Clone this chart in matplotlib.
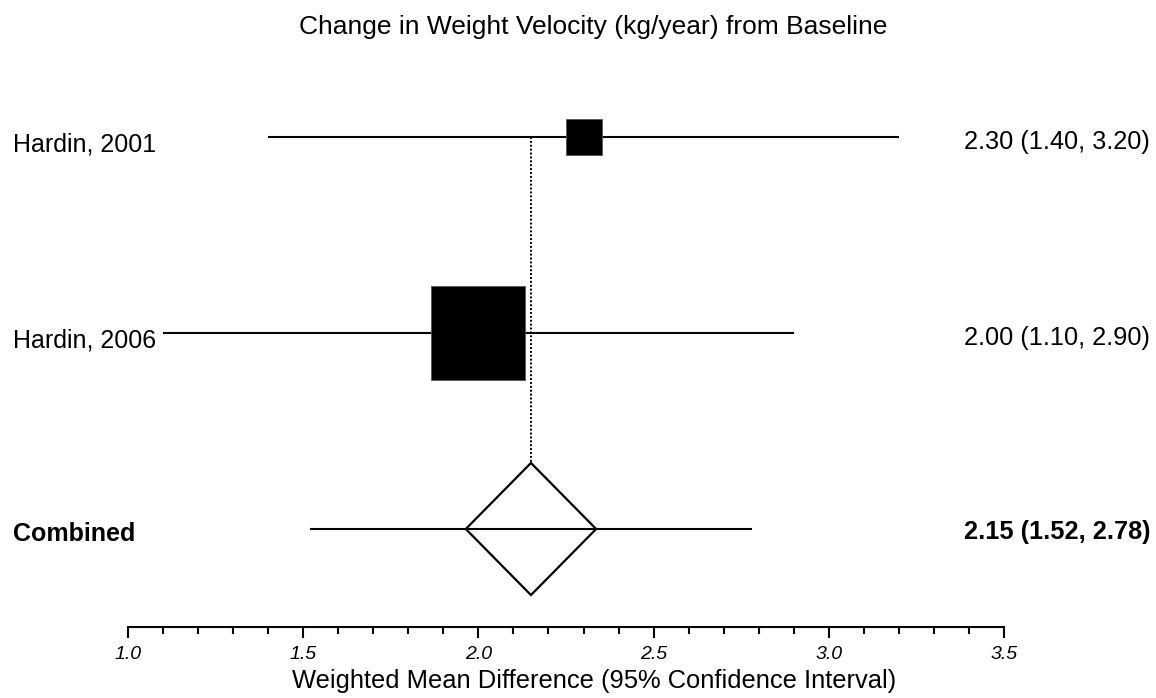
import numpy as np
import matplotlib
matplotlib.use('Agg')
from matplotlib import pyplot as plt
from matplotlib.patches import Polygon

plt.rcParams['font.family'] = 'Liberation Sans'

studies = ['Hardin, 2001', 'Hardin, 2006']
estimates = [2.30, 2.00]
ci_low = [1.40, 1.10]
ci_high = [3.20, 2.90]
weights = [13.2, 86.8]   # percent, sets box area

pooled_label = 'Combined'
pooled_est = 2.15
pooled_low = 1.52
pooled_high = 2.78

title = 'Change in Weight Velocity (kg/year) from Baseline'
xlabel = 'Weighted Mean Difference (95% Confidence Interval)'

W, H = 1156, 698
fig = plt.figure(figsize=(W / 100, H / 100), dpi=100)
ax = fig.add_axes([128 / W, 71 / H, 876 / W, 588 / H])
ax.set_xlim(1.0, 3.5)
ax.set_ylim(0.5, 3.5)

rows = [3, 2]
for y, est, lo, hi, w in zip(rows, estimates, ci_low, ci_high, weights):
    ax.plot([lo, hi], [y, y], color='black', lw=1.5, solid_capstyle='butt', zorder=2)
    side = 7.3 * np.sqrt(w)   # points
    ax.plot([est], [y], marker='s', ms=side, color='black', mec='#555555', mew=0.6, zorder=3)

# pooled row: CI line + diamond
ax.plot([pooled_low, pooled_high], [1, 1], color='black', lw=1.5, solid_capstyle='butt', zorder=2)
dx, dy = 0.186, 0.337
diamond = Polygon([[pooled_est - dx, 1], [pooled_est, 1 + dy],
                   [pooled_est + dx, 1], [pooled_est, 1 - dy]],
                  closed=True, fc='none', ec='black', lw=1.6, zorder=3)
ax.add_patch(diamond)
ax.plot([pooled_est, pooled_est], [rows[0], 1 + dy], color='black', lw=1.4,
        ls=(0, (1, 1)), zorder=1)

# study labels on the left, estimates on the right
trans = ax.get_yaxis_transform()
left_x = -(128 - 13) / 876
right_x = 1 + (1150 - 1004) / 876
for y, name, est, lo, hi in zip(rows, studies, estimates, ci_low, ci_high):
    ax.text(left_x, y - 0.072, name, transform=trans, ha='left', va='baseline', fontsize=18)
    ax.text(right_x, y - 0.062, '%.2f (%.2f, %.2f)' % (est, lo, hi), transform=trans,
            ha='right', va='baseline', fontsize=18.3)
ax.text(left_x, 1 - 0.062, pooled_label, transform=trans, ha='left', va='baseline',
        fontsize=18, fontweight='bold')
ax.text(right_x, 1 - 0.05, '%.2f (%.2f, %.2f)' % (pooled_est, pooled_low, pooled_high),
        transform=trans, ha='right', va='baseline', fontsize=18.3, fontweight='bold')

# axis styling
for s in ['top', 'right', 'left']:
    ax.spines[s].set_visible(False)
ax.spines['bottom'].set_linewidth(1.5)
ax.set_yticks([])
ax.set_xticks(np.arange(1.0, 3.51, 0.5))
ax.set_xticks(np.arange(1.0, 3.51, 0.1), minor=True)
ax.set_xticklabels(['%.1f' % v for v in np.arange(1.0, 3.51, 0.5)], fontstyle='italic', fontsize=14)
ax.tick_params(axis='x', which='major', length=8, width=1.5, pad=6)
ax.tick_params(axis='x', which='minor', length=5, width=1.5)

fig.text(594 / W, 1 - 681 / H, xlabel, ha='center', va='center', fontsize=18.4)
fig.text(593 / W, 1 - 27 / H, title, ha='center', va='center', fontsize=19)

plt.savefig('out.png', dpi=100)
